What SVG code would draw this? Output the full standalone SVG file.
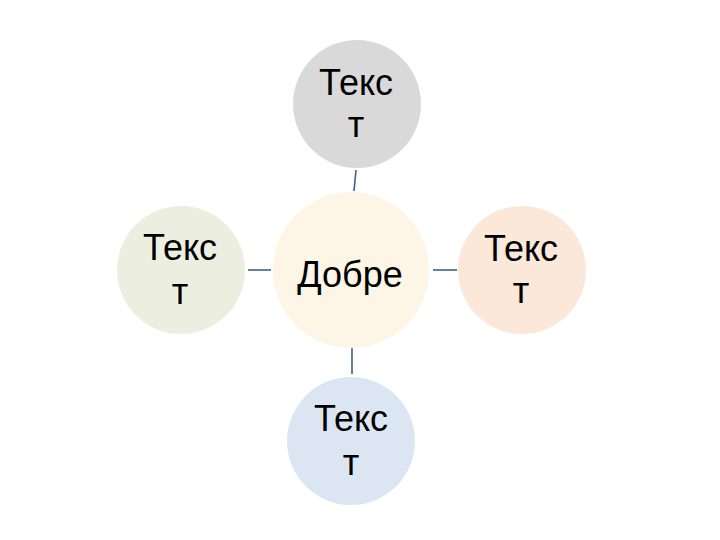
<svg xmlns="http://www.w3.org/2000/svg" width="720" height="540" viewBox="0 0 720 540">
<style>
text{font-family:"Liberation Sans","DejaVu Sans",sans-serif;font-size:36px;fill:#000;text-anchor:middle}
.c{stroke:none}
.l{stroke:#3f6184;stroke-width:1.6;fill:none}
</style>
<rect width="720" height="540" fill="#fff"/>
<g id="connectors">
<line class="l" x1="356" y1="170" x2="354" y2="191"/>
<line class="l" x1="248" y1="270" x2="271" y2="270"/>
<line class="l" x1="433" y1="270" x2="457" y2="270"/>
<line class="l" x1="352" y1="348" x2="352" y2="374"/>
</g>
<g id="center">
<circle class="c" cx="351" cy="270" r="78" fill="#fdf5e6"/>
<text x="350" y="287">Добре</text>
</g>
<g id="top">
<circle class="c" cx="357" cy="104" r="64" fill="#d9d9d9"/>
<text x="356" y="95">Текс</text>
<text x="356" y="137">т</text>
</g>
<g id="left">
<circle class="c" cx="181" cy="270" r="64" fill="#ecefe0"/>
<text x="180" y="260">Текс</text>
<text x="180" y="304">т</text>
</g>
<g id="right">
<circle class="c" cx="522" cy="270" r="64" fill="#fce8d9"/>
<text x="521" y="261">Текс</text>
<text x="521" y="303">т</text>
</g>
<g id="bottom">
<circle class="c" cx="351" cy="441" r="64" fill="#dce6f2"/>
<text x="351" y="431">Текс</text>
<text x="351" y="475">т</text>
</g>
</svg>
